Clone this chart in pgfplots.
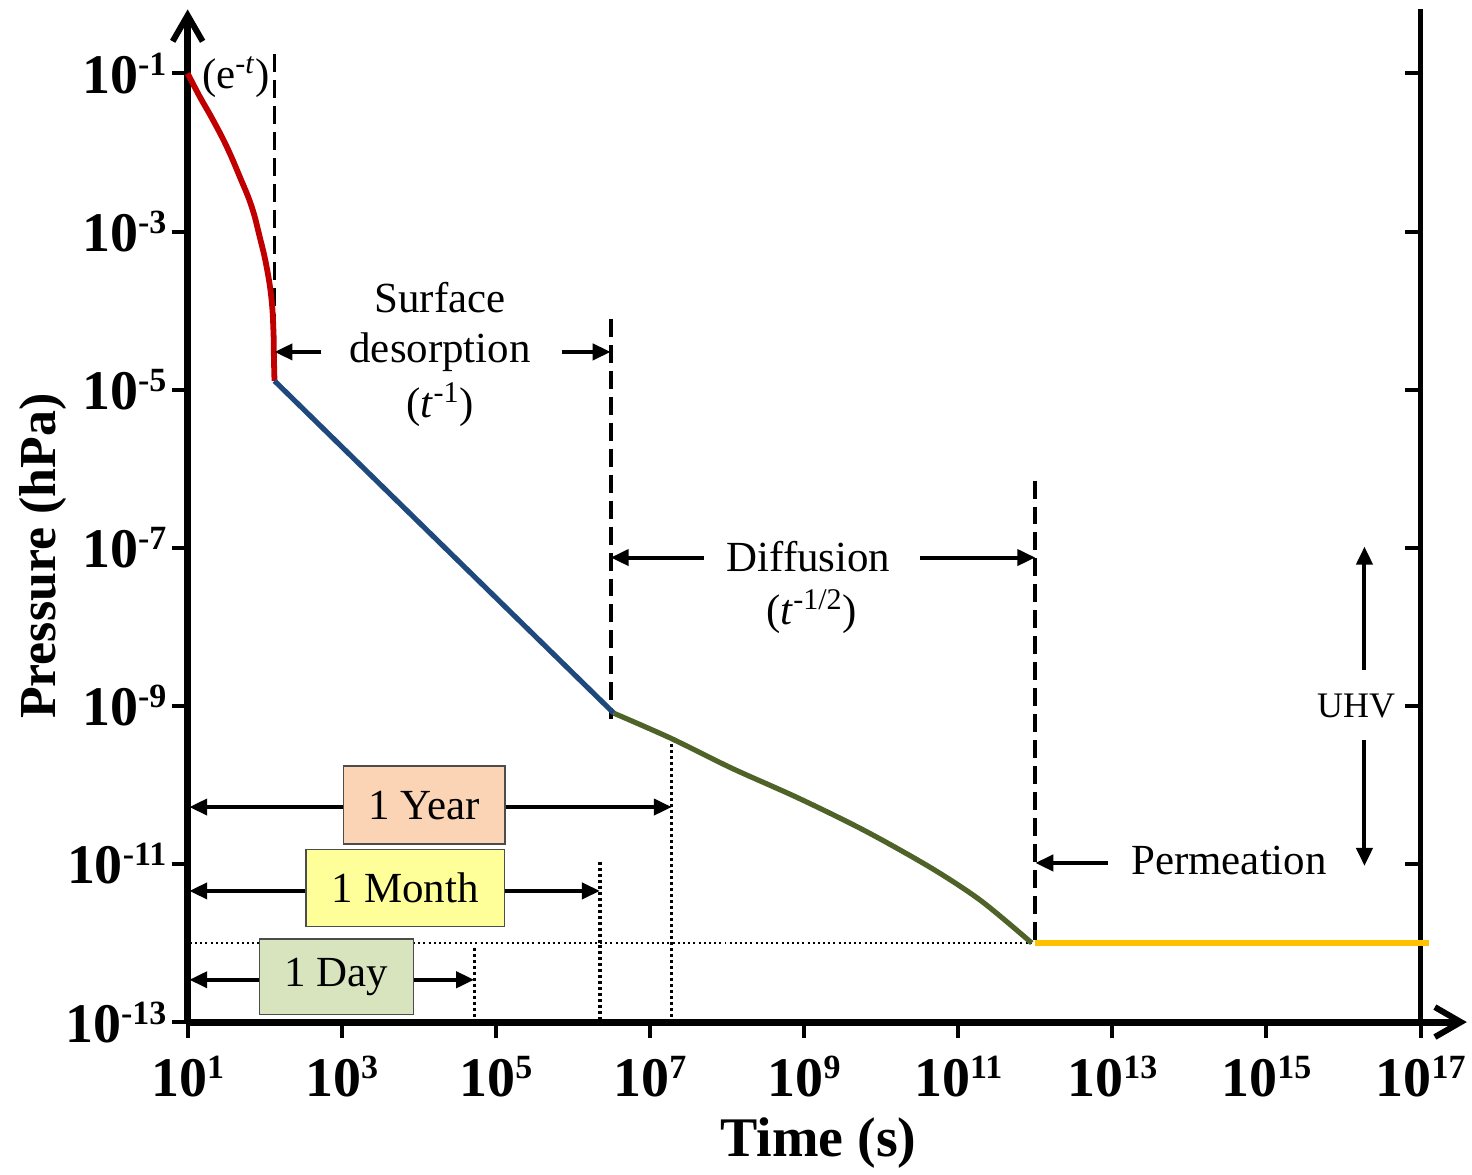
\documentclass[border=0pt]{standalone}
\usepackage{pgfplots}
\pgfplotsset{compat=1.18}
\usetikzlibrary{arrows.meta}
\usepackage{fontspec}
\setmainfont{Liberation Serif}

\definecolor{cRed}{HTML}{C00000}
\definecolor{cBlue}{HTML}{1F497D}
\definecolor{cGreen}{HTML}{4F6228}
\definecolor{cGold}{HTML}{FFC000}
\definecolor{bYear}{HTML}{FBD3B5}
\definecolor{bMonth}{HTML}{FFFF99}
\definecolor{bDay}{HTML}{D7E4BD}

% bold power-of-ten tick label
\newcommand{\pw}[1]{\mbox{\bfseries\fontsize{28}{30}\selectfont 10\raisebox{9pt}{\fontsize{17}{17}\selectfont #1}}}

\tikzset{
  ann/.style={line width=2pt, {Triangle[length=9pt,width=8pt]}-{Triangle[length=9pt,width=8pt]}},
  annR/.style={line width=2pt, -{Triangle[length=9pt,width=8pt]}},
  span/.style={draw=black!70, line width=0.7pt, inner sep=0pt, font=\fontsize{21.5}{24}\selectfont},
  txt/.style={font=\fontsize{21.5}{24}\selectfont, inner sep=0pt},
  vdash/.style={line width=2pt, dash pattern=on 9pt off 4pt},
  vdot/.style={line width=1.6pt, dash pattern=on 1.5pt off 1.5pt},
}

\begin{document}
\begin{tikzpicture}
\begin{axis}[
  at={(0,0)}, anchor=south west,
  scale only axis, width=640.8pt, height=507.3pt,
  xmode=log, ymode=log,
  xmin=10, xmax=3.981e17,
  ymin=1e-13, ymax=0.6457,
  enlargelimits=false,
  axis lines=left,
  axis line style={line width=3.5pt, -{Straight Barb[length=13pt,width=15pt,line width=3pt]}},
  tick align=outside,
  major tick length=8pt,
  every tick/.style={black, line width=2pt},
  minor xtick={}, minor ytick={},
  xtick={1e1,1e3,1e5,1e7,1e9,1e11,1e13,1e15,1e17},
  xticklabels={\pw{1},\pw{3},\pw{5},\pw{7},\pw{9},\pw{11},\pw{13},\pw{15},\pw{17}},
  ytick={1e-13,1e-11,1e-9,1e-7,1e-5,1e-3,1e-1},
  yticklabels={\pw{-13},\pw{-11},\pw{-9},\pw{-7},\pw{-5},\pw{-3},\pw{-1}},
  xticklabel style={inner sep=0pt, anchor=north, yshift=-9pt},
  yticklabel style={inner sep=0pt, anchor=east, xshift=-2.5pt},
  xlabel={Time (s)},
  ylabel={Pressure (hPa)},
  xlabel style={at={(axis description cs:0.4932,-0.1193)}, anchor=center,
    font=\bfseries\fontsize{28}{30}\selectfont},
  ylabel style={at={(axis description cs:-0.1131,0.46)}, anchor=center,
    font=\bfseries\fontsize{26}{28}\selectfont},
  clip=false,
]
% right-hand frame line with inward ticks
\draw[line width=2.8pt] (axis cs:1e17,1e-13) -- (axis cs:1e17,0.6457);
\pgfplotsinvokeforeach{1e-1,1e-3,1e-5,1e-7,1e-9,1e-11}{
  \draw[line width=2pt] (axis cs:1e17,#1) -- ++(-8pt,0pt);
}

% reference lines
\draw[line width=1pt, dash pattern=on 1pt off 1.6pt] (axis cs:10.7,1e-12) -- (axis cs:9e11,1e-12);
\draw[vdash] (axis cs:134,0.1738) -- (axis cs:134,1.291e-5);
\draw[vdash] (axis cs:3.09e6,7.83e-5) -- (axis cs:3.09e6,6.92e-10);
\draw[vdash] (axis cs:1e12,7.08e-7) -- (axis cs:1e12,1e-12);
\draw[vdot] (axis cs:5.224e4,8.7e-13) -- (axis cs:5.224e4,1.05e-13);
\draw[vdot] (axis cs:2.239e6,1.07e-11) -- (axis cs:2.239e6,1.05e-13);
\draw[vdot] (axis cs:1.919e7,3.89e-10) -- (axis cs:1.919e7,1.05e-13);

% pressure regimes
\addplot[cRed, line width=2.9pt, smooth, tension=0.7] coordinates {
  (10,0.1) (14.29,0.05129) (21.09,0.02624) (31.99,0.01197) (47.21,0.005000)
  (67.45,0.002094) (85.70,8.750e-4) (105.4,3.656e-4) (122.5,1.400e-4)
  (130.0,5.370e-5) (131.8,2.449e-5) (134.0,1.291e-5)};
\addplot[cBlue, line width=2.6pt] coordinates {(134.0,1.291e-5) (3.396e6,8.07e-10)};
\addplot[cGreen, line width=2.6pt, smooth, tension=0.5] coordinates {
  (3.396e6,8.07e-10) (1.858e7,3.899e-10) (1.148e8,1.629e-10) (8.453e8,6.808e-11)
  (6.237e9,2.612e-11) (4.467e10,8.892e-12) (1.986e11,3.412e-12) (9.0e11,1.0e-12)};
\addplot[cGold, line width=3.2pt] coordinates {(1e12,1e-12) (1.29e17,1e-12)};

% time spans
\draw[ann] (axis cs:10.5,5.25e-11) -- (axis cs:1.919e7,5.25e-11);
\draw[ann] (axis cs:10.5,4.56e-12) -- (axis cs:2.239e6,4.56e-12);
\draw[ann] (axis cs:10.5,3.43e-13) -- (axis cs:5.224e4,3.43e-13);
\node[span, fill=bYear, minimum width=81pt, minimum height=39pt] at (axis cs:1.175e4,5.56e-11) {1 Year};
\node[span, fill=bMonth, minimum width=99.5pt, minimum height=38.5pt] at (axis cs:6.67e3,4.98e-12) {1 Month};
\node[span, fill=bDay, minimum width=77pt, minimum height=38pt] at (axis cs:851,3.74e-13) {1 Day};

% regime annotations
\node[txt, anchor=west] at (axis cs:15.2,0.0891) {(e\textsuperscript{-\textit{t}})};

\draw[annR] (axis cs:544.5,3.0e-5) -- (axis cs:134,3.0e-5);
\draw[annR] (axis cs:7.21e5,3.0e-5) -- (axis cs:3.09e6,3.0e-5);
\node[txt, anchor=base] at (axis cs:1.89e4,9.59e-5) {Surface};
\node[txt, anchor=base] at (axis cs:1.89e4,2.18e-5) {desorption};
\node[txt, anchor=base] at (axis cs:1.89e4,4.41e-6) {(\textit{t}\textsuperscript{-1})};

\draw[annR] (axis cs:4.98e7,7.52e-8) -- (axis cs:3.09e6,7.52e-8);
\draw[annR] (axis cs:3.22e10,7.52e-8) -- (axis cs:1e12,7.52e-8);
\node[txt, anchor=base] at (axis cs:1.14e9,5.01e-8) {Diffusion};
\node[txt, anchor=base] at (axis cs:1.25e9,1.07e-8) {(\textit{t}\textsuperscript{-1/2})};

\draw[annR] (axis cs:8.77e12,1.03e-11) -- (axis cs:1e12,1.03e-11);
\node[txt, anchor=base west] at (axis cs:1.74e13,7.26e-12) {Permeation};

\draw[annR] (axis cs:1.87e16,2.81e-9) -- (axis cs:1.87e16,1.035e-7);
\draw[annR] (axis cs:1.87e16,3.68e-10) -- (axis cs:1.87e16,9.44e-12);
\node[inner sep=0pt, anchor=east, font=\fontsize{18}{20}\selectfont] at (axis cs:4.72e16,1e-9) {UHV};
\end{axis}
\path (-94pt,-74.5pt) rectangle (642pt,512pt);
\end{tikzpicture}
\end{document}
